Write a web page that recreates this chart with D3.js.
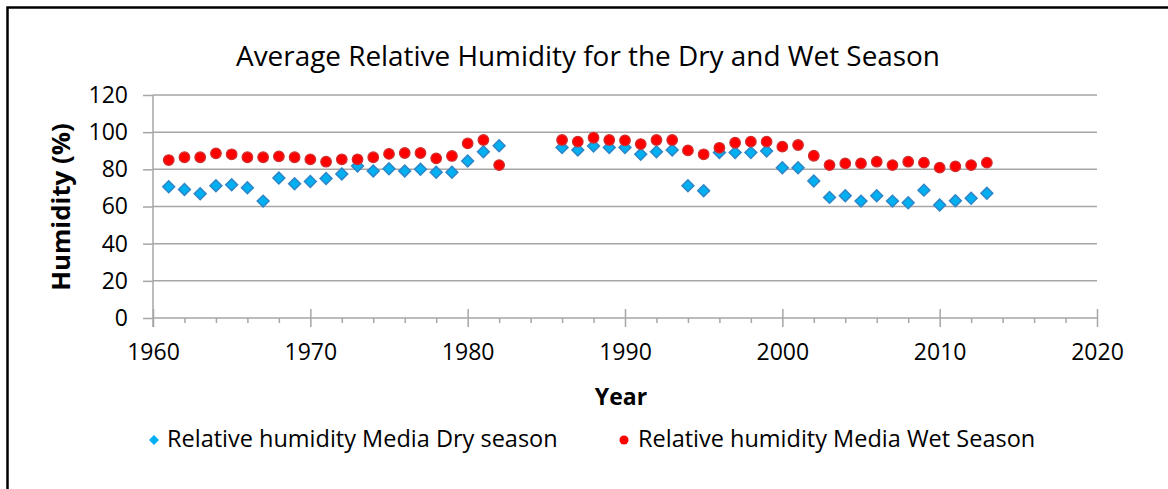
<!DOCTYPE html>
<html>
<head>
<meta charset="utf-8">
<script src="https://cdn.jsdelivr.net/npm/d3@7"></script>
<style>
body { margin:0; background:#fff; }
text { font-family: "Open Sans", sans-serif; fill:#000; }
</style>
</head>
<body>
<div id="chart"></div>
<script>
// values
var years = [1961,1962,1963,1964,1965,1966,1967,1968,1969,1970,1971,1972,1973,1974,1975,1976,1977,1978,1979,1980,1981,1982,
  1986,1987,1988,1989,1990,1991,1992,1993,1994,1995,1996,1997,1998,1999,2000,2001,2002,2003,2004,2005,2006,2007,2008,2009,2010,2011,2012,2013];
var drySeason = [70.6,69.2,66.9,71.2,71.7,70.1,62.9,75.3,72.2,73.5,75.1,77.5,81.8,79.1,80.3,79.1,80.0,78.4,78.4,84.5,89.5,92.7,
  91.8,90.4,92.6,91.8,91.8,88.1,89.5,90.4,71.2,68.5,89.0,89.0,89.0,89.9,80.9,80.9,73.7,64.9,65.8,62.9,65.8,62.9,62.0,68.8,60.8,63.1,64.4,67.1];
var wetSeason = [85.0,86.5,86.5,88.6,88.1,86.5,86.5,87.0,86.5,85.4,84.1,85.4,85.4,86.5,88.3,88.8,88.8,85.9,87.2,94.0,95.8,82.3,
  95.8,94.9,97.0,95.8,95.6,93.6,95.8,95.8,90.2,88.1,91.6,94.3,94.9,94.9,92.2,93.1,87.3,82.3,83.2,83.2,84.1,82.3,84.1,83.6,80.9,81.6,82.3,83.6];
var xTicks = [1960,1970,1980,1990,2000,2010,2020];
var yTicks = [0,20,40,60,80,100,120];
var seriesNames = ["Relative humidity Media Dry season","Relative humidity Media Wet Season"];

var w = 1168, h = 489;
var plot = {left:153, right:1097, top:95, bottom:318};

var svg = d3.select("#chart").append("svg")
  .attr("width", w)
  .attr("height", h);

// outer frame (cut off on the right and bottom like the picture)
svg.append("rect")
  .attr("x", 7.5).attr("y", 7.5)
  .attr("width", w + 10).attr("height", h + 10)
  .attr("fill", "#fff")
  .attr("stroke", "#000")
  .attr("stroke-width", 2.5);

var x = d3.scaleLinear().domain([1960, 2020]).range([plot.left, plot.right]);
var y = d3.scaleLinear().domain([0, 120]).range([plot.bottom, plot.top]);

// gridlines
svg.append("g")
  .selectAll("line")
  .data(yTicks.filter(function(d){ return d > 0; }))
  .enter()
  .append("line")
  .attr("x1", plot.left).attr("x2", plot.right)
  .attr("y1", function(d){ return y(d); })
  .attr("y2", function(d){ return y(d); })
  .attr("stroke", "#a6a6a6")
  .attr("stroke-width", 1.5);

// y axis
var yAxis = d3.axisLeft(y).tickValues(yTicks).tickSize(10).tickPadding(15);
var gy = svg.append("g")
  .attr("transform", "translate(" + plot.left + ",0)")
  .call(yAxis);
gy.select(".domain").attr("stroke", "#a6a6a6").attr("stroke-width", 1.5)
  .attr("d", "M0," + (plot.top) + "V" + (plot.bottom + 9));
gy.selectAll(".tick line").attr("stroke", "#a6a6a6").attr("stroke-width", 1.5);
gy.selectAll(".tick text").style("font-size", "23px").style("font-family", "'Open Sans', sans-serif").attr("fill", "#222");

// x axis, minor ticks every 2 years
var minor = d3.range(1962, 2020, 2).filter(function(d){ return d % 10 != 0; });
var gMinor = svg.append("g").attr("transform", "translate(0," + plot.bottom + ")")
  .call(d3.axisBottom(x).tickValues(minor).tickSize(5).tickFormat(""));
gMinor.select(".domain").remove();
gMinor.selectAll(".tick line").attr("stroke", "#a6a6a6").attr("stroke-width", 1.5);

var xAxis = d3.axisBottom(x).tickValues(xTicks).tickFormat(d3.format("d")).tickSize(9).tickPadding(17);
var gx = svg.append("g")
  .attr("transform", "translate(0," + plot.bottom + ")")
  .call(xAxis);
gx.select(".domain").attr("stroke", "#a6a6a6").attr("stroke-width", 1.5)
  .attr("d", "M" + plot.left + ",0H" + plot.right);
gx.selectAll(".tick line").attr("stroke", "#a6a6a6").attr("stroke-width", 1.5).attr("y1", -9);
gx.selectAll(".tick text").style("font-size", "23px").style("font-family", "'Open Sans', sans-serif").attr("fill", "#222");

// points
var dryData = years.map(function(d, i){ return {year:d, value:drySeason[i]}; });
var wetData = years.map(function(d, i){ return {year:d, value:wetSeason[i]}; });

var diamond = d3.symbol().type(d3.symbolSquare).size(70);

svg.append("g")
  .selectAll("path")
  .data(dryData)
  .enter()
  .append("path")
  .attr("d", diamond)
  .attr("transform", function(d){ return "translate(" + x(d.year) + "," + y(d.value) + ") rotate(45)"; })
  .attr("fill", "#00b0f0")
  .attr("stroke", "#2e86c8")
  .attr("stroke-width", 1.5);

svg.append("g")
  .selectAll("circle")
  .data(wetData)
  .enter()
  .append("circle")
  .attr("cx", function(d){ return x(d.year); })
  .attr("cy", function(d){ return y(d.value); })
  .attr("r", 5.3)
  .attr("fill", "#ff0000")
  .attr("stroke", "#d03030")
  .attr("stroke-width", 1.2);

// titles
var labels = svg.append("g");
labels.append("text")
  .text("Average Relative Humidity for the Dry and Wet Season")
  .attr("text-anchor", "middle")
  .attr("x", 588).attr("y", 66)
  .attr("fill", "#222")
  .style("font-size", "27.9px");

labels.append("text")
  .text("Year")
  .attr("text-anchor", "middle")
  .attr("x", 621).attr("y", 405)
  .style("font-size", "23px")
  .style("font-weight", "bold");

labels.append("text")
  .text("Humidity (%)")
  .attr("text-anchor", "middle")
  .attr("transform", "translate(70,207) rotate(-90)")
  .style("font-size", "25.8px")
  .style("font-weight", "bold");

// legend
var legend = svg.append("g");
legend.append("path")
  .attr("d", d3.symbol().type(d3.symbolSquare).size(50))
  .attr("transform", "translate(154,440) rotate(45)")
  .attr("fill", "#00b0f0");
legend.append("text")
  .text(seriesNames[0])
  .attr("x", 167).attr("y", 447)
  .attr("fill", "#222")
  .style("font-size", "23.5px");
legend.append("circle")
  .attr("cx", 624).attr("cy", 440).attr("r", 4.5)
  .attr("fill", "#ff0000");
legend.append("text")
  .text(seriesNames[1])
  .attr("x", 638).attr("y", 447)
  .attr("fill", "#222")
  .style("font-size", "23.5px");
</script>
</body>
</html>
